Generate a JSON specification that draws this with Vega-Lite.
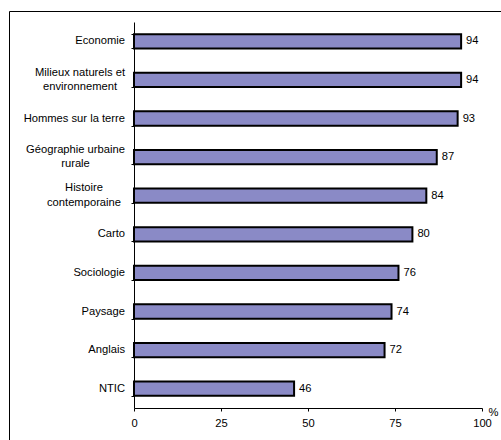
{
  "$schema": "https://vega.github.io/schema/vega-lite/v6.json",
  "width": 493,
  "height": 432,
  "padding": {"left": 9, "top": 11, "right": 0, "bottom": 0},
  "autosize": {"type": "none"},
  "background": "white",
  "config": {
    "view": {"stroke": "#000000", "strokeWidth": 1},
    "font": "Liberation Sans",
    "axis": {
      "labelFont": "Liberation Sans",
      "labelFontSize": 11.2,
      "labelColor": "#000000",
      "domainColor": "#000000",
      "tickColor": "#000000",
      "grid": false,
      "tickSize": 3
    },
    "text": {"font": "Liberation Sans", "fontSize": 11.2, "color": "#000000", "baseline": "middle", "lineBreak": "\n", "lineHeight": 14.5}
  },
  "data": {
    "values": [
      {"subject": "Economie", "pct": 94},
      {"subject": "Milieux naturels et\nenvironnement", "pct": 94},
      {"subject": "Hommes sur la terre", "pct": 93},
      {"subject": "Géographie urbaine\nrurale", "pct": 87},
      {"subject": "Histoire\ncontemporaine", "pct": 84},
      {"subject": "Carto", "pct": 80},
      {"subject": "Sociologie", "pct": 76},
      {"subject": "Paysage", "pct": 74},
      {"subject": "Anglais", "pct": 72},
      {"subject": "NTIC", "pct": 46}
    ]
  },
  "encoding": {
    "y": {
      "field": "subject",
      "type": "nominal",
      "sort": null,
      "scale": {"range": [11, 397], "paddingInner": 0.63, "paddingOuter": 0.315},
      "axis": {
        "title": null,
        "offset": -125,
        "tickBand": "extent",
        "labels": false
      }
    },
    "x": {
      "field": "pct",
      "type": "quantitative",
      "scale": {"domain": [0, 100], "range": [125, 473], "nice": false, "zero": true},
      "axis": {
        "title": "%",
        "offset": -35,
        "values": [0, 25, 50, 75, 100],
        "labelPadding": 6,
        "labelFlush": false,
        "titleX": 484,
        "titleY": 4,
        "titleAlign": "center",
        "titleBaseline": "middle",
        "titleFont": "Liberation Sans",
        "titleFontWeight": "normal",
        "titleFontSize": 11.2,
        "titleColor": "#000000"
      }
    }
  },
  "layer": [
    {
      "mark": {"type": "bar", "fill": "#8A8AC6", "stroke": "#000000", "strokeWidth": 2}
    },
    {
      "mark": {"type": "text", "align": "left", "dx": 5},
      "encoding": {"text": {"field": "pct", "type": "quantitative"}}
    },
    {
      "transform": [{"filter": "indexof(datum.subject, '\\n') < 0"}],
      "mark": {"type": "text", "align": "right", "dx": -9},
      "encoding": {"x": {"datum": 0}, "text": {"field": "subject"}}
    },
    {
      "transform": [{"filter": "indexof(datum.subject, 'Milieux') >= 0"}],
      "mark": {"type": "text", "align": "center", "dx": -54, "dy": -7.25},
      "encoding": {"x": {"datum": 0}, "text": {"field": "subject"}}
    },
    {
      "transform": [{"filter": "indexof(datum.subject, 'Géographie') >= 0"}],
      "mark": {"type": "text", "align": "center", "dx": -58.5, "dy": -7.25},
      "encoding": {"x": {"datum": 0}, "text": {"field": "subject"}}
    },
    {
      "transform": [{"filter": "indexof(datum.subject, 'Histoire') >= 0"}],
      "mark": {"type": "text", "align": "center", "dx": -50, "dy": -7.25},
      "encoding": {"x": {"datum": 0}, "text": {"field": "subject"}}
    }
  ]
}
